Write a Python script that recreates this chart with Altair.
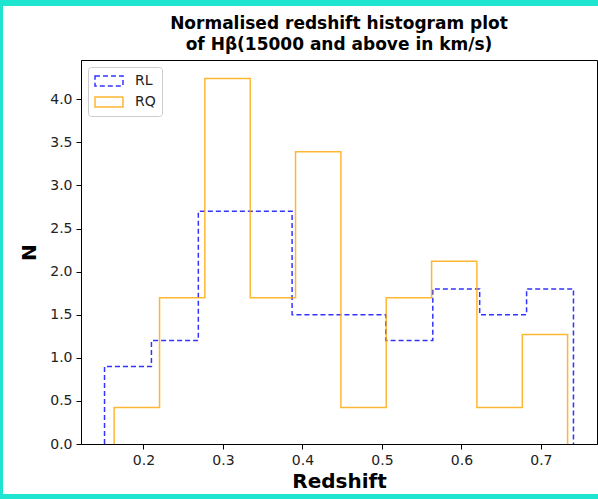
import altair as alt
import pandas as pd

# ---- data ----
rl_edges = [0.151, 0.210, 0.269, 0.328, 0.387, 0.446, 0.505, 0.564, 0.623, 0.682, 0.741]
rl_heights = [0.9, 1.2, 2.7, 2.7, 1.5, 1.5, 1.2, 1.8, 1.5, 1.8]

rq_edges = [0.1631, 0.2202, 0.2772, 0.3343, 0.3913, 0.4484, 0.5054, 0.5625, 0.6195, 0.6766, 0.7336]
rq_heights = [0.424, 1.696, 4.24, 1.696, 3.392, 0.424, 1.696, 2.12, 0.424, 1.272]

x_ticks = [0.2, 0.3, 0.4, 0.5, 0.6, 0.7]
y_ticks = [0.0, 0.5, 1.0, 1.5, 2.0, 2.5, 3.0, 3.5, 4.0]

title_lines = ["Normalised redshift histogram plot", "of Hβ(15000 and above in km/s)"]


def step_outline(edges, heights, name):
    rows = []
    k = 0
    rows.append({"x": edges[0], "y": 0.0, "group": name, "o": k}); k += 1
    for i, h in enumerate(heights):
        rows.append({"x": edges[i], "y": h, "group": name, "o": k}); k += 1
        rows.append({"x": edges[i + 1], "y": h, "group": name, "o": k}); k += 1
    rows.append({"x": edges[-1], "y": 0.0, "group": name, "o": k})
    return rows


df = pd.DataFrame(step_outline(rl_edges, rl_heights, "RL") + step_outline(rq_edges, rq_heights, "RQ"))

FONT = "DejaVu Sans"
W, H = 516, 384

lines = alt.Chart(df).mark_line(strokeWidth=1.5, opacity=0.8, clip=True).encode(
    x=alt.X("x:Q",
            scale=alt.Scale(domain=[0.1214, 0.7706], nice=False, zero=False),
            axis=alt.Axis(values=x_ticks, format=".1f", title="Redshift", grid=False,
                          labelFont=FONT, labelFontSize=14, labelColor="#222",
                          tickSize=5, tickColor="black", domainColor="black",
                          labelPadding=4, titleFont=FONT, titleFontSize=20,
                          titleFontWeight="bold", titleColor="black", titlePadding=4)),
    y=alt.Y("y:Q",
            scale=alt.Scale(domain=[0, 4.456], nice=False),
            axis=alt.Axis(values=y_ticks, format=".1f", title="N", grid=False,
                          labelFont=FONT, labelFontSize=14, labelColor="#222",
                          tickSize=5, tickColor="black", domainColor="black",
                          labelPadding=4, titleFont=FONT, titleFontSize=20,
                          titleFontWeight="bold", titleColor="black", titlePadding=10)),
    color=alt.Color("group:N",
                    scale=alt.Scale(domain=["RL", "RQ"], range=["#0000ff", "#ffa500"]),
                    legend=alt.Legend(title=None, orient="top-left", offset=7,
                                      padding=6, strokeColor="#cccccc", cornerRadius=3,
                                      fillColor="white", labelFont=FONT, labelFontSize=14,
                                      labelColor="#222", labelOffset=18, rowPadding=5,
                                      symbolType="M-2,-0.7H2V0.7H-2Z", symbolSize=196,
                                      symbolOffset=7,
                                      symbolStrokeWidth=1.5, symbolFillColor="transparent")),
    strokeDash=alt.StrokeDash("group:N",
                              scale=alt.Scale(domain=["RL", "RQ"], range=[[5, 3], [1, 0]]),
                              legend=alt.Legend(title=None)),
    order="o:Q",
)

teal = "#1de5cf"
frame_top = alt.Chart().mark_rect(color=teal, clip=False).encode(
    x=alt.value(-81), x2=alt.value(517), y=alt.value(-60), y2=alt.value(-54))
frame_left = alt.Chart().mark_rect(color=teal, clip=False).encode(
    x=alt.value(-81), x2=alt.value(-78), y=alt.value(-60), y2=alt.value(439))
frame_bottom = alt.Chart().mark_rect(color=teal, clip=False).encode(
    x=alt.value(-81), x2=alt.value(517), y=alt.value(434), y2=alt.value(439))

chart = alt.layer(lines, frame_top, frame_left, frame_bottom).properties(
    width=W, height=H,
    title=alt.TitleParams(text=title_lines, font=FONT, fontSize=17, fontWeight="bold",
                          color="black", anchor="middle", offset=10, dy=64, lineHeight=21),
    autosize=alt.AutoSizeParams(type="none"),
    padding={"left": 81, "top": 60, "right": 1, "bottom": 55},
    background="white",
).configure_view(stroke="black", strokeWidth=1)

chart.save("out.html", embed_options={"renderer": "svg", "actions": False})
